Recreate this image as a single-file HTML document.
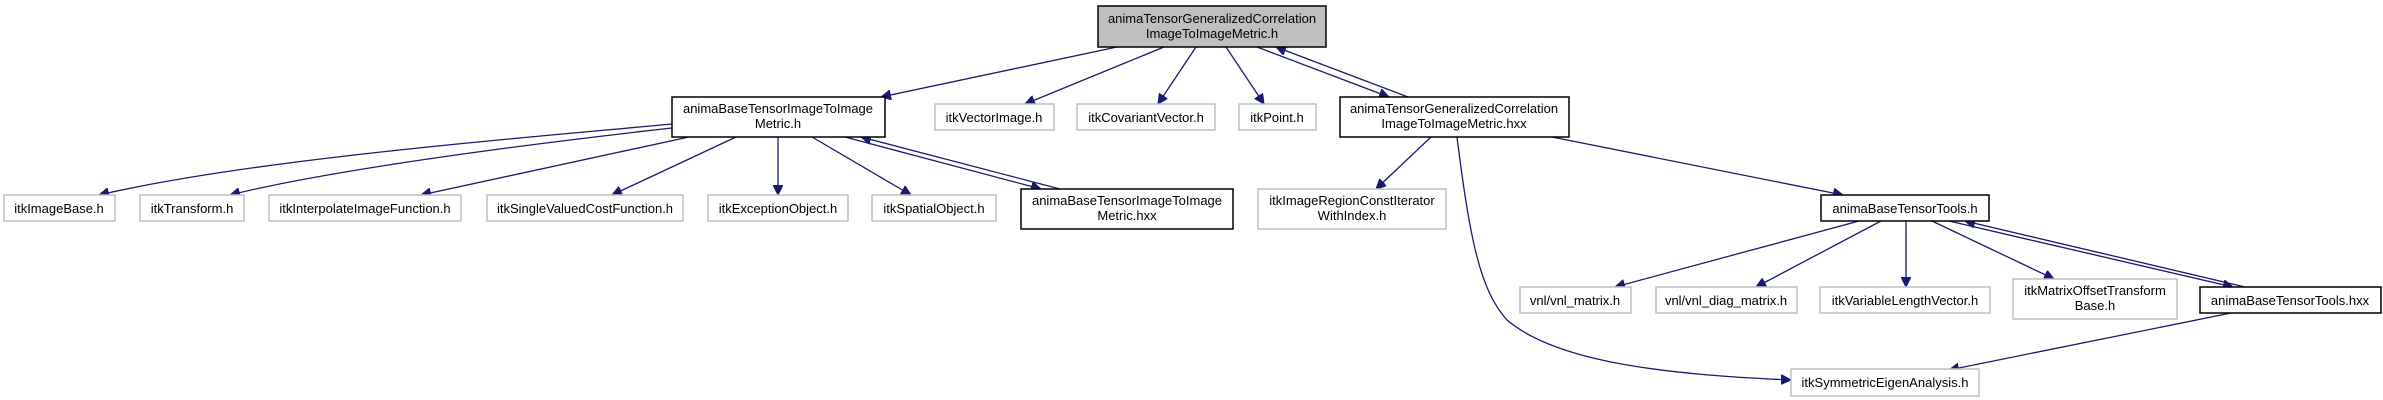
<!DOCTYPE html>
<html><head><meta charset="utf-8"><style>
html,body{margin:0;padding:0;background:#fff;}
svg{display:block;}
text{font-family:"Liberation Sans",sans-serif;font-size:13px;fill:#000;text-anchor:middle;}
.e{fill:#fff;stroke:#bfbfbf;stroke-width:1.5;}
.i{fill:#fff;stroke:#000;stroke-width:1.5;}
.l{fill:none;stroke:#191970;stroke-width:1.3;}
</style></head><body>
<svg width="2383" height="400" viewBox="0 0 2383 400" xmlns="http://www.w3.org/2000/svg">
<defs><marker id="a" viewBox="0 0 10 10" refX="10" refY="5" markerWidth="10" markerHeight="10" markerUnits="userSpaceOnUse" orient="auto"><path d="M0,0 L10,5 L0,10 z" fill="#191970" stroke="#191970"/></marker></defs>

<!-- edges -->
<g class="l" marker-end="url(#a)">
<path d="M1117,47 L881,97"/>
<path d="M1164,47 L1025,104"/>
<path d="M1196,47 L1158,104"/>
<path d="M1226,47 L1264,104"/>
<path d="M1257,47 L1389,97"/>
<path d="M1408,97 L1276,47"/>
<path d="M672,124 C500,140 250,160 99,195"/>
<path d="M672,128 C520,145 330,170 230,195"/>
<path d="M689,137 L421,195"/>
<path d="M736,137 L612,195"/>
<path d="M778,137 L778,195"/>
<path d="M812,137 L911,195"/>
<path d="M845,137 L1041,189"/>
<path d="M1060,189 L861,137"/>
<path d="M1431,137 L1376,189"/>
<path d="M1552,137 L1843,195"/>
<path d="M1457,137 C1470,240 1480,290 1507,320 C1560,365 1680,375 1791,380"/>
<path d="M1859,221 L1615,287"/>
<path d="M1881,221 L1756,287"/>
<path d="M1906,221 L1906,287"/>
<path d="M1932,221 L2054,279"/>
<path d="M1949,221 L2233,287"/>
<path d="M2245,287 L1965,221"/>
<path d="M2231,313 L1949,370"/>
</g>

<!-- nodes -->
<rect x="1098" y="6" width="228" height="41" fill="#bfbfbf" stroke="#000" stroke-width="1.5"/>
<text x="1212" y="23">animaTensorGeneralizedCorrelation</text>
<text x="1212" y="38">ImageToImageMetric.h</text>

<rect class="i" x="672" y="97" width="213" height="40"/>
<text x="778" y="113">animaBaseTensorImageToImage</text>
<text x="778" y="128">Metric.h</text>

<rect class="e" x="935" y="104" width="119" height="26"/><text x="994" y="122">itkVectorImage.h</text>
<rect class="e" x="1077" y="104" width="138" height="26"/><text x="1146" y="122">itkCovariantVector.h</text>
<rect class="e" x="1239" y="104" width="77" height="26"/><text x="1277" y="122">itkPoint.h</text>

<rect class="i" x="1340" y="97" width="229" height="40"/>
<text x="1454" y="113">animaTensorGeneralizedCorrelation</text>
<text x="1454" y="128">ImageToImageMetric.hxx</text>

<rect class="e" x="4" y="195" width="111" height="26"/><text x="59" y="213">itkImageBase.h</text>
<rect class="e" x="140" y="195" width="104" height="26"/><text x="192" y="213">itkTransform.h</text>
<rect class="e" x="269" y="195" width="192" height="26"/><text x="365" y="213">itkInterpolateImageFunction.h</text>
<rect class="e" x="487" y="195" width="196" height="26"/><text x="585" y="213">itkSingleValuedCostFunction.h</text>
<rect class="e" x="708" y="195" width="140" height="26"/><text x="778" y="213">itkExceptionObject.h</text>
<rect class="e" x="872" y="195" width="124" height="26"/><text x="934" y="213">itkSpatialObject.h</text>

<rect class="i" x="1021" y="189" width="212" height="40"/>
<text x="1127" y="205">animaBaseTensorImageToImage</text>
<text x="1127" y="220">Metric.hxx</text>

<rect class="e" x="1258" y="189" width="188" height="40"/>
<text x="1352" y="205">itkImageRegionConstIterator</text>
<text x="1352" y="220">WithIndex.h</text>

<rect class="i" x="1821" y="195" width="168" height="26"/><text x="1905" y="213">animaBaseTensorTools.h</text>

<rect class="e" x="1520" y="287" width="111" height="26"/><text x="1575" y="305">vnl/vnl_matrix.h</text>
<rect class="e" x="1656" y="287" width="141" height="26"/><text x="1726" y="305">vnl/vnl_diag_matrix.h</text>
<rect class="e" x="1820" y="287" width="170" height="26"/><text x="1905" y="305">itkVariableLengthVector.h</text>
<rect class="e" x="2013" y="279" width="164" height="40"/>
<text x="2095" y="295">itkMatrixOffsetTransform</text>
<text x="2095" y="310">Base.h</text>
<rect class="i" x="2200" y="287" width="181" height="26"/><text x="2290" y="305">animaBaseTensorTools.hxx</text>

<rect class="e" x="1791" y="369" width="188" height="27"/><text x="1885" y="387">itkSymmetricEigenAnalysis.h</text>
</svg>
</body></html>
